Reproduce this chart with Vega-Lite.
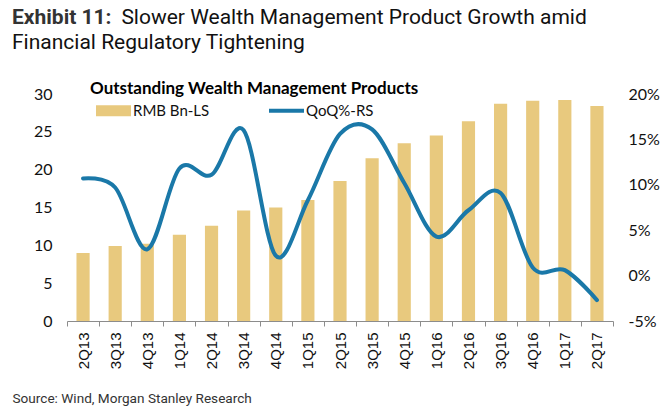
{
  "$schema": "https://vega.github.io/schema/vega-lite/v6.json",
  "autosize": {"type": "none"},
  "width": 546,
  "height": 227,
  "padding": {"left": 67, "top": 94, "right": 49, "bottom": 94},
  "background": "white",
  "title": {
    "text": "Exhibit 11:",
    "subtitle": ["\u200b\u00a0\u00a0\u00a0\u00a0\u00a0\u00a0\u00a0\u00a0\u00a0\u00a0\u00a0\u00a0\u00a0\u00a0\u00a0\u00a0\u00a0\u00a0\u00a0\u00a0\u00a0Slower Wealth Management Product Growth amid", "Financial Regulatory Tightening"],
    "anchor": "start",
    "frame": "group",
    "dx": -55,
    "font": "Roboto",
    "fontSize": 21,
    "fontWeight": "bold",
    "color": "#333333",
    "subtitleFont": "Roboto",
    "subtitleFontSize": 21,
    "subtitleColor": "#111111",
    "subtitleLineHeight": 25,
    "subtitlePadding": -21,
    "offset": 28
  },
  "data": {
    "values": [
      {"q": "2Q13", "rmb": 9.0, "qoq": 10.7},
      {"q": "3Q13", "rmb": 9.9, "qoq": 9.7},
      {"q": "4Q13", "rmb": 10.2, "qoq": 2.9},
      {"q": "1Q14", "rmb": 11.4, "qoq": 11.8},
      {"q": "2Q14", "rmb": 12.6, "qoq": 11.1},
      {"q": "3Q14", "rmb": 14.6, "qoq": 16.0},
      {"q": "4Q14", "rmb": 15.0, "qoq": 2.2},
      {"q": "1Q15", "rmb": 16.0, "qoq": 8.3},
      {"q": "2Q15", "rmb": 18.5, "qoq": 15.6},
      {"q": "3Q15", "rmb": 21.5, "qoq": 16.1},
      {"q": "4Q15", "rmb": 23.5, "qoq": 10.2},
      {"q": "1Q16", "rmb": 24.5, "qoq": 4.3},
      {"q": "2Q16", "rmb": 26.4, "qoq": 7.2},
      {"q": "3Q16", "rmb": 28.7, "qoq": 9.1},
      {"q": "4Q16", "rmb": 29.1, "qoq": 0.9},
      {"q": "1Q17", "rmb": 29.2, "qoq": 0.6},
      {"q": "2Q17", "rmb": 28.4, "qoq": -2.7}
    ]
  },
  "encoding": {
    "x": {
      "field": "q",
      "type": "nominal",
      "sort": null,
      "scale": {"paddingInner": 0, "paddingOuter": 0},
      "axis": {
        "title": "Source: Wind, Morgan Stanley Research",
        "titleFont": "Roboto",
        "titleFontSize": 13.6,
        "titleFontWeight": "normal",
        "titleColor": "#333333",
        "titleAnchor": "start",
        "titleAlign": "left",
        "titleBaseline": "alphabetic",
        "titleX": -55,
        "titleY": 81,
        "labelAngle": 270,
        "labelAlign": "right",
        "labelBaseline": "middle",
        "labelFont": "Liberation Sans",
        "labelFontSize": 15,
        "labelColor": "#111111",
        "labelPadding": 6,
        "tickBand": "extent",
        "tickSize": 5,
        "tickColor": "#8c8c8c",
        "domainColor": "#8c8c8c",
        "grid": false
      }
    }
  },
  "layer": [
    {
      "mark": {"type": "bar", "width": {"band": 0.41}},
      "encoding": {
        "y": {
          "field": "rmb",
          "type": "quantitative",
          "scale": {"domain": [0, 30], "nice": false},
          "axis": {
            "title": null,
            "values": [0, 5, 10, 15, 20, 25, 30],
            "grid": false,
            "domain": false,
            "ticks": false,
            "labelFont": "Lato",
            "labelFontSize": 16,
            "labelColor": "#111111",
            "labelPadding": 15
          }
        },
        "color": {
          "datum": "RMB Bn-LS",
          "type": "nominal",
          "scale": {"domain": ["RMB Bn-LS", "QoQ%-RS"], "range": ["#E8C97E", "#1A78A8"]},
          "legend": {
            "orient": "none",
            "legendX": 23,
            "legendY": -13,
            "direction": "horizontal",
            "title": "Outstanding Wealth Management Products",
            "titleLimit": 500,
            "titleFont": "Lato",
            "titleFontSize": 17,
            "titleFontWeight": "bold",
            "titleColor": "#000000",
            "titlePadding": 5,
            "labelFont": "Lato",
            "labelFontSize": 15,
            "labelColor": "#111111",
            "labelOffset": 12,
            "symbolOffset": 16,
            "columnPadding": 51,
            "symbolSize": 1225,
            "symbolStrokeWidth": 4,
            "encode": {
              "symbols": {
                "update": {
                  "shape": {"signal": "datum.value === 'RMB Bn-LS' ? 'M-1,-0.31H1V0.31H-1Z' : 'M-1,0H1'"},
                  "size": {"value": 1225},
                  "fill": {"signal": "datum.value === 'RMB Bn-LS' ? '#E8C97E' : 'transparent'"},
                  "stroke": {"signal": "datum.value === 'RMB Bn-LS' ? 'transparent' : '#1A78A8'"},
                  "strokeWidth": {"signal": "datum.value === 'RMB Bn-LS' ? 0 : 4"},
                  "opacity": {"value": 1}
                }
              }
            }
          }
        }
      }
    },
    {
      "mark": {"type": "line", "interpolate": "cardinal", "strokeWidth": 4, "strokeCap": "round"},
      "encoding": {
        "y": {
          "field": "qoq",
          "type": "quantitative",
          "scale": {"domain": [-5, 20], "nice": false},
          "axis": {
            "title": null,
            "orient": "right",
            "values": [-5, 0, 5, 10, 15, 20],
            "labelExpr": "datum.value + '%'",
            "grid": false,
            "domain": false,
            "ticks": false,
            "labelFont": "Lato",
            "labelFontSize": 16,
            "labelColor": "#111111",
            "labelPadding": 15
          }
        },
        "color": {"datum": "QoQ%-RS", "type": "nominal"}
      }
    }
  ],
  "resolve": {"scale": {"y": "independent"}},
  "config": {
    "view": {"stroke": null},
    "axis": {"labelOverlap": false}
  }
}
